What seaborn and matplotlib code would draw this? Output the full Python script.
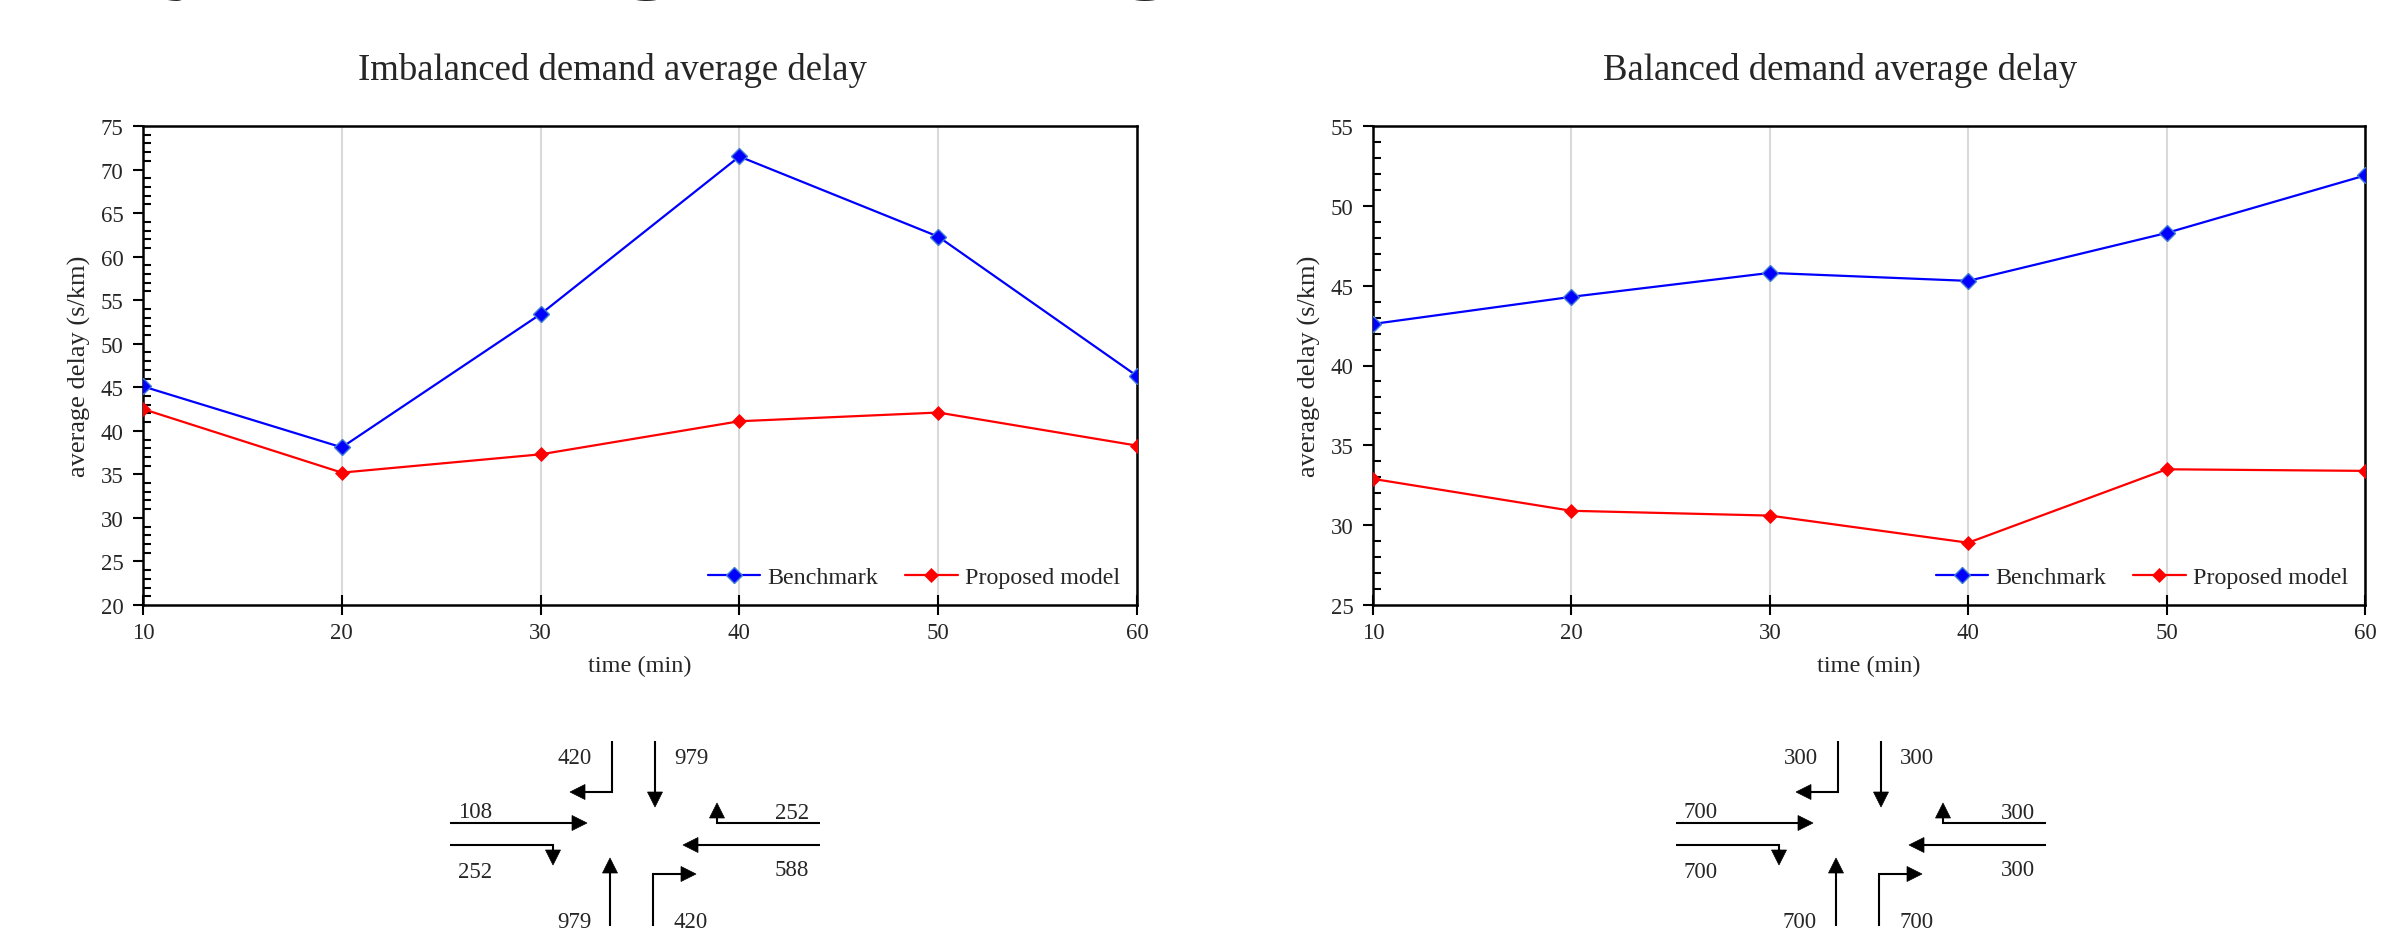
import matplotlib
matplotlib.use("Agg")
import matplotlib.pyplot as plt
import seaborn as sns
import pandas as pd
from matplotlib.patches import Polygon
from matplotlib.ticker import MultipleLocator

# chart data
times = [10, 20, 30, 40, 50, 60]
imb_benchmark = [45.1, 38.1, 53.4, 71.5, 62.3, 46.3]
imb_proposed = [42.5, 35.2, 37.3, 41.1, 42.1, 38.3]
bal_benchmark = [42.6, 44.3, 45.8, 45.3, 48.3, 51.9]
bal_proposed = [32.9, 30.9, 30.6, 28.9, 33.5, 33.4]
series_names = ["Benchmark", "Proposed model"]
panel_titles = ["Imbalanced demand average delay", "Balanced demand average delay"]
y_ranges = [(20, 75), (25, 55)]

# turning volumes: SB-left, SB-through, EB-through, EB-right, WB-left, WB-through, NB-through, NB-right
imb_volumes = [420, 979, 108, 252, 252, 588, 979, 420]
bal_volumes = [300, 300, 700, 700, 300, 300, 700, 700]

sns.set_theme(style="white")
plt.rcParams['font.family'] = ['Liberation Serif', 'DejaVu Serif']

fig = plt.figure(figsize=(24.05, 9.37), dpi=100)
W, H = 2405, 937

# overlay in pixel units for the heading strip and the intersection sketches
dax = fig.add_axes([0, 0, 1, 1])
dax.set_xlim(0, W)
dax.set_ylim(H, 0)
dax.axis('off')

# slide heading, mostly cut off by the top edge (as in the source slide)
fig.text(-31 / W, 1 + 21 / H, "Delay Test using Q-learning", fontsize=73,
         fontweight='bold', va='baseline', ha='left')


def draw_arrow(ax, pts, head_len=15, head_w=15):
    (x0, y0), (x1, y1) = pts[-2], pts[-1]
    dx, dy = x1 - x0, y1 - y0
    L = (dx ** 2 + dy ** 2) ** 0.5
    ux, uy = dx / L, dy / L
    bx, by = x1 - ux * head_len, y1 - uy * head_len
    xs = [p[0] for p in pts[:-1]] + [bx]
    ys = [p[1] for p in pts[:-1]] + [by]
    ax.plot(xs, ys, color='black', lw=1.5, solid_capstyle='butt', solid_joinstyle='miter')
    px, py = -uy, ux
    tri = [(x1, y1), (bx + px * head_w / 2, by + py * head_w / 2),
           (bx - px * head_w / 2, by - py * head_w / 2)]
    ax.add_patch(Polygon(tri, closed=True, facecolor='black', edgecolor='black', lw=0.5))


# movement shapes relative to intersection centre (y down)
moves = [
    [(-21, -93), (-21, -42), (-63, -42)],
    [(22, -93), (22, -27)],
    [(-183, -11), (-46, -11)],
    [(-183, 11), (-80, 11), (-80, 31)],
    [(187, -11), (84, -11), (84, -31)],
    [(187, 11), (50, 11)],
    [(-23, 92), (-23, 24)],
    [(20, 92), (20, 40), (63, 40)],
]
label_offsets = [(-58, -76), (58, -76), (-158, -22), (-158, 38),
                 (159, -21), (159, 36), (-59, 88), (58, 88)]


def draw_intersection(ax, cx, cy, volumes):
    for path, (lx, ly), v in zip(moves, label_offsets, volumes):
        draw_arrow(ax, [(cx + x, cy + y) for x, y in path])
        ax.text(cx + lx, cy + ly, str(v), fontsize=16.5, ha='center', va='center')


draw_intersection(dax, 633, 835, imb_volumes)
draw_intersection(dax, 1859, 835, bal_volumes)

# the two line charts
axes_boxes = [[143 / W, 1 - 606 / H, 994 / W, 479 / H],
              [1373 / W, 1 - 606 / H, 992 / W, 479 / H]]
title_x = [612, 1840]
panels = [(imb_benchmark, imb_proposed), (bal_benchmark, bal_proposed)]

for i, (bench, prop) in enumerate(panels):
    ax = fig.add_axes(axes_boxes[i])
    df_b = pd.DataFrame({'time': times, 'delay': bench})
    df_p = pd.DataFrame({'time': times, 'delay': prop})
    sns.lineplot(data=df_b, x='time', y='delay', ax=ax, color='#0000FF', lw=1.6,
                 marker='D', markersize=8.5, markeredgecolor='#3f7ad6', markeredgewidth=1,
                 label=series_names[0], zorder=3)
    sns.lineplot(data=df_p, x='time', y='delay', ax=ax, color='#FF0000', lw=1.6,
                 marker='D', markersize=7, markeredgecolor='#FF0000', markeredgewidth=0.5,
                 label=series_names[1], zorder=3)
    ax.set_xlim(10, 60)
    ax.set_ylim(*y_ranges[i])
    ax.set_xticks(times)
    ax.yaxis.set_major_locator(MultipleLocator(5))
    ax.yaxis.set_minor_locator(MultipleLocator(1))
    ax.tick_params(axis='y', which='major', direction='out', length=7, width=1.5,
                   labelsize=16.5, pad=7, left=True, color='black')
    ax.tick_params(axis='y', which='minor', direction='in', length=6, width=1.5,
                   left=True, color='black')
    ax.tick_params(axis='x', which='major', direction='inout', length=14, width=1.5,
                   labelsize=16.5, pad=5, bottom=True, color='black')
    ax.grid(axis='x', color='#d9d9d9', linewidth=1.5)
    ax.grid(axis='y', visible=False)
    ax.set_axisbelow(True)
    for s in ax.spines.values():
        s.set_visible(True)
        s.set_color('black')
        s.set_linewidth(1.8)
    ax.set_xlabel('time (min)', fontsize=17.5, labelpad=9)
    ax.set_ylabel('average delay (s/km)', fontsize=19, labelpad=7)
    ax.legend(loc='lower right', ncol=2, frameon=False, fontsize=17.3,
              handlelength=2.2, columnspacing=1.1, handletextpad=0.3,
              borderaxespad=0.3)
    fig.text(title_x[i] / W, 1 - 80 / H, panel_titles[i], fontsize=26.5,
             ha='center', va='baseline')

fig.savefig('out.png', dpi=100)
